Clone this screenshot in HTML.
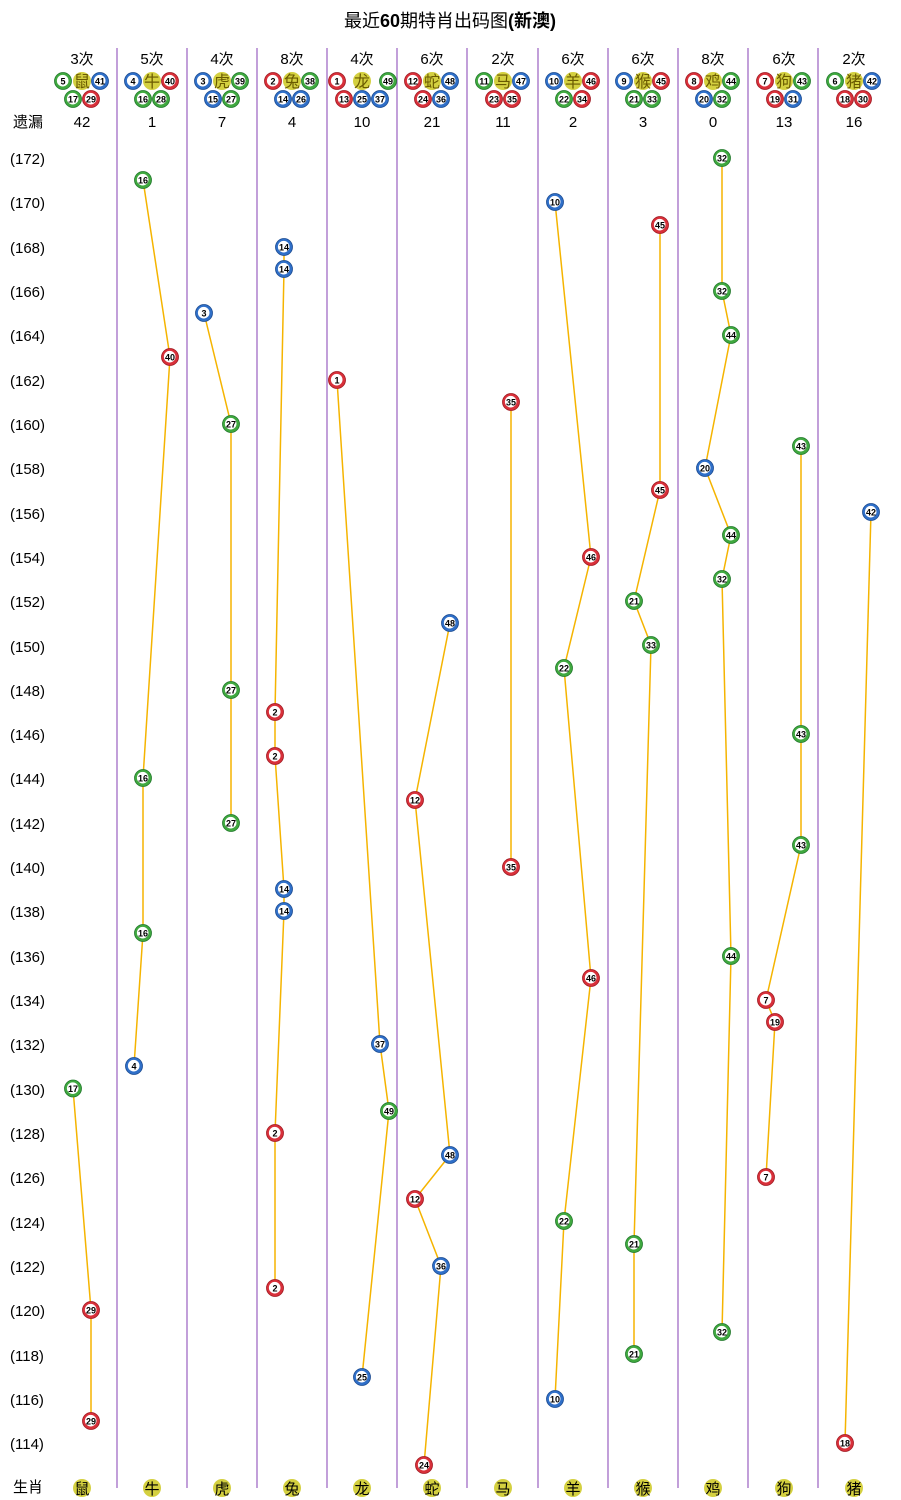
<!DOCTYPE html>
<html><head><meta charset="utf-8"><style>
body{margin:0;background:#fff}
svg{display:block}
text{font-family:"Liberation Sans","Noto Sans CJK SC",sans-serif}
.r{fill:#d8303a;stroke:#a01820;stroke-width:.8}
.b{fill:#2f6fc8;stroke:#1a4a90;stroke-width:.8}
.g{fill:#3fa83f;stroke:#20782a;stroke-width:.8}
.w{fill:#fff}
.n{font-size:9px;font-weight:bold;text-anchor:middle;fill:#000}
.t{font-size:15px;text-anchor:middle;fill:#000}
.ax{font-size:15px;fill:#000}
.z{font-size:16px;text-anchor:middle;fill:#6a5a00}
.zb{fill:#d4d040}
.ln{stroke:#f5b400;stroke-width:1.5;fill:none}
.v{stroke:#9a60c0;stroke-width:1.2}
</style></head><body>
<svg width="901" height="1500" viewBox="0 0 901 1500" xmlns="http://www.w3.org/2000/svg">
<defs>
<g id="R"><circle r="8.5" class="r"/><circle r="5.8" cx="-.3" cy="-.3" class="w"/></g>
<g id="B"><circle r="8.5" class="b"/><circle r="5.8" cx="-.3" cy="-.3" class="w"/></g>
<g id="G"><circle r="8.5" class="g"/><circle r="5.8" cx="-.3" cy="-.3" class="w"/></g>
</defs>
<text x="450" y="27" style="font-size:18px;text-anchor:middle">最近<tspan font-weight="bold">60</tspan>期特肖出码图<tspan font-weight="bold">(新澳)</tspan></text>
<g>
<line class="v" x1="117" y1="48" x2="117" y2="1488"/><line class="v" x1="187" y1="48" x2="187" y2="1488"/><line class="v" x1="257" y1="48" x2="257" y2="1488"/><line class="v" x1="327" y1="48" x2="327" y2="1488"/><line class="v" x1="397" y1="48" x2="397" y2="1488"/><line class="v" x1="467" y1="48" x2="467" y2="1488"/><line class="v" x1="538" y1="48" x2="538" y2="1488"/><line class="v" x1="608" y1="48" x2="608" y2="1488"/><line class="v" x1="678" y1="48" x2="678" y2="1488"/><line class="v" x1="748" y1="48" x2="748" y2="1488"/><line class="v" x1="818" y1="48" x2="818" y2="1488"/>
</g>
<!-- counts -->
<g class="t">
<text x="82" y="64" class="t">3次</text><text x="152" y="64" class="t">5次</text><text x="222" y="64" class="t">4次</text><text x="292" y="64" class="t">8次</text><text x="362" y="64" class="t">4次</text><text x="432" y="64" class="t">6次</text><text x="503" y="64" class="t">2次</text><text x="573" y="64" class="t">6次</text><text x="643" y="64" class="t">6次</text><text x="713" y="64" class="t">8次</text><text x="784" y="64" class="t">6次</text><text x="854" y="64" class="t">2次</text>
<text x="28" y="127" class="t">遗漏</text>
<text x="82" y="127" class="t">42</text><text x="152" y="127" class="t">1</text><text x="222" y="127" class="t">7</text><text x="292" y="127" class="t">4</text><text x="362" y="127" class="t">10</text><text x="432" y="127" class="t">21</text><text x="503" y="127" class="t">11</text><text x="573" y="127" class="t">2</text><text x="643" y="127" class="t">3</text><text x="713" y="127" class="t">0</text><text x="784" y="127" class="t">13</text><text x="854" y="127" class="t">16</text>
</g>
<!-- header zodiac -->
<g>
<circle cx="82" cy="81" r="9" class="zb"/><text x="82" y="87" class="z">鼠</text>
<circle cx="152" cy="81" r="9" class="zb"/><text x="152" y="87" class="z">牛</text>
<circle cx="222" cy="81" r="9" class="zb"/><text x="222" y="87" class="z">虎</text>
<circle cx="292" cy="81" r="9" class="zb"/><text x="292" y="87" class="z">兔</text>
<circle cx="362" cy="81" r="9" class="zb"/><text x="362" y="87" class="z">龙</text>
<circle cx="432" cy="81" r="9" class="zb"/><text x="432" y="87" class="z">蛇</text>
<circle cx="503" cy="81" r="9" class="zb"/><text x="503" y="87" class="z">马</text>
<circle cx="573" cy="81" r="9" class="zb"/><text x="573" y="87" class="z">羊</text>
<circle cx="643" cy="81" r="9" class="zb"/><text x="643" y="87" class="z">猴</text>
<circle cx="713" cy="81" r="9" class="zb"/><text x="713" y="87" class="z">鸡</text>
<circle cx="784" cy="81" r="9" class="zb"/><text x="784" y="87" class="z">狗</text>
<circle cx="854" cy="81" r="9" class="zb"/><text x="854" y="87" class="z">猪</text>
</g>
<!-- header balls -->
<g>
<use href="#G" x="63" y="81"/><text x="63" y="84.5" class="n">5</text>
<use href="#B" x="100" y="81"/><text x="100" y="84.5" class="n">41</text>
<use href="#G" x="73" y="99"/><text x="73" y="102.5" class="n">17</text>
<use href="#R" x="91" y="99"/><text x="91" y="102.5" class="n">29</text>

<use href="#B" x="133" y="81"/><text x="133" y="84.5" class="n">4</text>
<use href="#R" x="170" y="81"/><text x="170" y="84.5" class="n">40</text>
<use href="#G" x="143" y="99"/><text x="143" y="102.5" class="n">16</text>
<use href="#G" x="161" y="99"/><text x="161" y="102.5" class="n">28</text>

<use href="#B" x="203" y="81"/><text x="203" y="84.5" class="n">3</text>
<use href="#G" x="240" y="81"/><text x="240" y="84.5" class="n">39</text>
<use href="#B" x="213" y="99"/><text x="213" y="102.5" class="n">15</text>
<use href="#G" x="231" y="99"/><text x="231" y="102.5" class="n">27</text>

<use href="#R" x="273" y="81"/><text x="273" y="84.5" class="n">2</text>
<use href="#G" x="310" y="81"/><text x="310" y="84.5" class="n">38</text>
<use href="#B" x="283" y="99"/><text x="283" y="102.5" class="n">14</text>
<use href="#B" x="301" y="99"/><text x="301" y="102.5" class="n">26</text>

<use href="#R" x="337" y="81"/><text x="337" y="84.5" class="n">1</text>
<use href="#G" x="388" y="81"/><text x="388" y="84.5" class="n">49</text>
<use href="#R" x="344" y="99"/><text x="344" y="102.5" class="n">13</text>
<use href="#B" x="362" y="99"/><text x="362" y="102.5" class="n">25</text>
<use href="#B" x="380" y="99"/><text x="380" y="102.5" class="n">37</text>

<use href="#R" x="413" y="81"/><text x="413" y="84.5" class="n">12</text>
<use href="#B" x="450" y="81"/><text x="450" y="84.5" class="n">48</text>
<use href="#R" x="423" y="99"/><text x="423" y="102.5" class="n">24</text>
<use href="#B" x="441" y="99"/><text x="441" y="102.5" class="n">36</text>

<use href="#G" x="484" y="81"/><text x="484" y="84.5" class="n">11</text>
<use href="#B" x="521" y="81"/><text x="521" y="84.5" class="n">47</text>
<use href="#R" x="494" y="99"/><text x="494" y="102.5" class="n">23</text>
<use href="#R" x="512" y="99"/><text x="512" y="102.5" class="n">35</text>

<use href="#B" x="554" y="81"/><text x="554" y="84.5" class="n">10</text>
<use href="#R" x="591" y="81"/><text x="591" y="84.5" class="n">46</text>
<use href="#G" x="564" y="99"/><text x="564" y="102.5" class="n">22</text>
<use href="#R" x="582" y="99"/><text x="582" y="102.5" class="n">34</text>

<use href="#B" x="624" y="81"/><text x="624" y="84.5" class="n">9</text>
<use href="#R" x="661" y="81"/><text x="661" y="84.5" class="n">45</text>
<use href="#G" x="634" y="99"/><text x="634" y="102.5" class="n">21</text>
<use href="#G" x="652" y="99"/><text x="652" y="102.5" class="n">33</text>

<use href="#R" x="694" y="81"/><text x="694" y="84.5" class="n">8</text>
<use href="#G" x="731" y="81"/><text x="731" y="84.5" class="n">44</text>
<use href="#B" x="704" y="99"/><text x="704" y="102.5" class="n">20</text>
<use href="#G" x="722" y="99"/><text x="722" y="102.5" class="n">32</text>

<use href="#R" x="765" y="81"/><text x="765" y="84.5" class="n">7</text>
<use href="#G" x="802" y="81"/><text x="802" y="84.5" class="n">43</text>
<use href="#R" x="775" y="99"/><text x="775" y="102.5" class="n">19</text>
<use href="#B" x="793" y="99"/><text x="793" y="102.5" class="n">31</text>

<use href="#G" x="835" y="81"/><text x="835" y="84.5" class="n">6</text>
<use href="#B" x="872" y="81"/><text x="872" y="84.5" class="n">42</text>
<use href="#R" x="845" y="99"/><text x="845" y="102.5" class="n">18</text>
<use href="#R" x="863" y="99"/><text x="863" y="102.5" class="n">30</text>
</g>
<!-- y axis -->
<g>
<text x="10" y="164" class="ax">(172)</text><text x="10" y="208" class="ax">(170)</text><text x="10" y="253" class="ax">(168)</text><text x="10" y="297" class="ax">(166)</text><text x="10" y="341" class="ax">(164)</text><text x="10" y="386" class="ax">(162)</text><text x="10" y="430" class="ax">(160)</text><text x="10" y="474" class="ax">(158)</text><text x="10" y="519" class="ax">(156)</text><text x="10" y="563" class="ax">(154)</text><text x="10" y="607" class="ax">(152)</text><text x="10" y="652" class="ax">(150)</text><text x="10" y="696" class="ax">(148)</text><text x="10" y="740" class="ax">(146)</text><text x="10" y="784" class="ax">(144)</text><text x="10" y="829" class="ax">(142)</text><text x="10" y="873" class="ax">(140)</text><text x="10" y="917" class="ax">(138)</text><text x="10" y="962" class="ax">(136)</text><text x="10" y="1006" class="ax">(134)</text><text x="10" y="1050" class="ax">(132)</text><text x="10" y="1095" class="ax">(130)</text><text x="10" y="1139" class="ax">(128)</text><text x="10" y="1183" class="ax">(126)</text><text x="10" y="1228" class="ax">(124)</text><text x="10" y="1272" class="ax">(122)</text><text x="10" y="1316" class="ax">(120)</text><text x="10" y="1361" class="ax">(118)</text><text x="10" y="1405" class="ax">(116)</text><text x="10" y="1449" class="ax">(114)</text>
</g>
<!-- lines -->
<g class="ln">
<polyline class="ln" points="73,1088.5 91,1310 91,1421"/>
<polyline class="ln" points="143,180 170,357 143,778 143,933 134,1066"/>
<polyline class="ln" points="204,313 231,424 231,690 231,823"/>
<polyline class="ln" points="284,247 284,269 275,712 275,756 284,889 284,911 275,1133 275,1288"/>
<polyline class="ln" points="337,380 380,1044 389,1111 362,1377"/>
<polyline class="ln" points="450,623 415,800 450,1155 415,1199 441,1266 424,1465"/>
<polyline class="ln" points="511,402 511,867"/>
<polyline class="ln" points="555,202 591,557 564,668 591,978 564,1221 555,1399"/>
<polyline class="ln" points="660,225 660,490 634,601 651,645 634,1244 634,1354"/>
<polyline class="ln" points="722,158 722,291 731,335 705,468 731,535 722,579 731,956 722,1332"/>
<polyline class="ln" points="801,446 801,734 801,845 766,1000 775,1022 766,1177"/>
<polyline class="ln" points="871,512 845,1443"/>
</g>
<!-- points -->
<g>
<use href="#G" x="73" y="1088.5"/><text x="73" y="1092" class="n">17</text>
<use href="#R" x="91" y="1310"/><text x="91" y="1313.5" class="n">29</text>
<use href="#R" x="91" y="1421"/><text x="91" y="1424.5" class="n">29</text>

<use href="#G" x="143" y="180"/><text x="143" y="183.5" class="n">16</text>
<use href="#R" x="170" y="357"/><text x="170" y="360.5" class="n">40</text>
<use href="#G" x="143" y="778"/><text x="143" y="781.5" class="n">16</text>
<use href="#G" x="143" y="933"/><text x="143" y="936.5" class="n">16</text>
<use href="#B" x="134" y="1066"/><text x="134" y="1069.5" class="n">4</text>

<use href="#B" x="204" y="313"/><text x="204" y="316.5" class="n">3</text>
<use href="#G" x="231" y="424"/><text x="231" y="427.5" class="n">27</text>
<use href="#G" x="231" y="690"/><text x="231" y="693.5" class="n">27</text>
<use href="#G" x="231" y="823"/><text x="231" y="826.5" class="n">27</text>

<use href="#B" x="284" y="247"/><text x="284" y="250.5" class="n">14</text>
<use href="#B" x="284" y="269"/><text x="284" y="272.5" class="n">14</text>
<use href="#R" x="275" y="712"/><text x="275" y="715.5" class="n">2</text>
<use href="#R" x="275" y="756"/><text x="275" y="759.5" class="n">2</text>
<use href="#B" x="284" y="889"/><text x="284" y="892.5" class="n">14</text>
<use href="#B" x="284" y="911"/><text x="284" y="914.5" class="n">14</text>
<use href="#R" x="275" y="1133"/><text x="275" y="1136.5" class="n">2</text>
<use href="#R" x="275" y="1288"/><text x="275" y="1291.5" class="n">2</text>

<use href="#R" x="337" y="380"/><text x="337" y="383.5" class="n">1</text>
<use href="#B" x="380" y="1044"/><text x="380" y="1047.5" class="n">37</text>
<use href="#G" x="389" y="1111"/><text x="389" y="1114.5" class="n">49</text>
<use href="#B" x="362" y="1377"/><text x="362" y="1380.5" class="n">25</text>

<use href="#B" x="450" y="623"/><text x="450" y="626.5" class="n">48</text>
<use href="#R" x="415" y="800"/><text x="415" y="803.5" class="n">12</text>
<use href="#B" x="450" y="1155"/><text x="450" y="1158.5" class="n">48</text>
<use href="#R" x="415" y="1199"/><text x="415" y="1202.5" class="n">12</text>
<use href="#B" x="441" y="1266"/><text x="441" y="1269.5" class="n">36</text>
<use href="#R" x="424" y="1465"/><text x="424" y="1468.5" class="n">24</text>

<use href="#R" x="511" y="402"/><text x="511" y="405.5" class="n">35</text>
<use href="#R" x="511" y="867"/><text x="511" y="870.5" class="n">35</text>

<use href="#B" x="555" y="202"/><text x="555" y="205.5" class="n">10</text>
<use href="#R" x="591" y="557"/><text x="591" y="560.5" class="n">46</text>
<use href="#G" x="564" y="668"/><text x="564" y="671.5" class="n">22</text>
<use href="#R" x="591" y="978"/><text x="591" y="981.5" class="n">46</text>
<use href="#G" x="564" y="1221"/><text x="564" y="1224.5" class="n">22</text>
<use href="#B" x="555" y="1399"/><text x="555" y="1402.5" class="n">10</text>

<use href="#R" x="660" y="225"/><text x="660" y="228.5" class="n">45</text>
<use href="#R" x="660" y="490"/><text x="660" y="493.5" class="n">45</text>
<use href="#G" x="634" y="601"/><text x="634" y="604.5" class="n">21</text>
<use href="#G" x="651" y="645"/><text x="651" y="648.5" class="n">33</text>
<use href="#G" x="634" y="1244"/><text x="634" y="1247.5" class="n">21</text>
<use href="#G" x="634" y="1354"/><text x="634" y="1357.5" class="n">21</text>

<use href="#G" x="722" y="158"/><text x="722" y="161.5" class="n">32</text>
<use href="#G" x="722" y="291"/><text x="722" y="294.5" class="n">32</text>
<use href="#G" x="731" y="335"/><text x="731" y="338.5" class="n">44</text>
<use href="#B" x="705" y="468"/><text x="705" y="471.5" class="n">20</text>
<use href="#G" x="731" y="535"/><text x="731" y="538.5" class="n">44</text>
<use href="#G" x="722" y="579"/><text x="722" y="582.5" class="n">32</text>
<use href="#G" x="731" y="956"/><text x="731" y="959.5" class="n">44</text>
<use href="#G" x="722" y="1332"/><text x="722" y="1335.5" class="n">32</text>

<use href="#G" x="801" y="446"/><text x="801" y="449.5" class="n">43</text>
<use href="#G" x="801" y="734"/><text x="801" y="737.5" class="n">43</text>
<use href="#G" x="801" y="845"/><text x="801" y="848.5" class="n">43</text>
<use href="#R" x="766" y="1000"/><text x="766" y="1003.5" class="n">7</text>
<use href="#R" x="775" y="1022"/><text x="775" y="1025.5" class="n">19</text>
<use href="#R" x="766" y="1177"/><text x="766" y="1180.5" class="n">7</text>

<use href="#B" x="871" y="512"/><text x="871" y="515.5" class="n">42</text>
<use href="#R" x="845" y="1443"/><text x="845" y="1446.5" class="n">18</text>
</g>
<!-- bottom -->
<g>
<text x="28" y="1492" class="t">生肖</text>
<circle cx="82" cy="1488" r="9" class="zb"/><text x="82" y="1494" class="t">鼠</text>
<circle cx="152" cy="1488" r="9" class="zb"/><text x="152" y="1494" class="t">牛</text>
<circle cx="222" cy="1488" r="9" class="zb"/><text x="222" y="1494" class="t">虎</text>
<circle cx="292" cy="1488" r="9" class="zb"/><text x="292" y="1494" class="t">兔</text>
<circle cx="362" cy="1488" r="9" class="zb"/><text x="362" y="1494" class="t">龙</text>
<circle cx="432" cy="1488" r="9" class="zb"/><text x="432" y="1494" class="t">蛇</text>
<circle cx="503" cy="1488" r="9" class="zb"/><text x="503" y="1494" class="t">马</text>
<circle cx="573" cy="1488" r="9" class="zb"/><text x="573" y="1494" class="t">羊</text>
<circle cx="643" cy="1488" r="9" class="zb"/><text x="643" y="1494" class="t">猴</text>
<circle cx="713" cy="1488" r="9" class="zb"/><text x="713" y="1494" class="t">鸡</text>
<circle cx="784" cy="1488" r="9" class="zb"/><text x="784" y="1494" class="t">狗</text>
<circle cx="854" cy="1488" r="9" class="zb"/><text x="854" y="1494" class="t">猪</text>
</g>
</svg>
</body></html>
